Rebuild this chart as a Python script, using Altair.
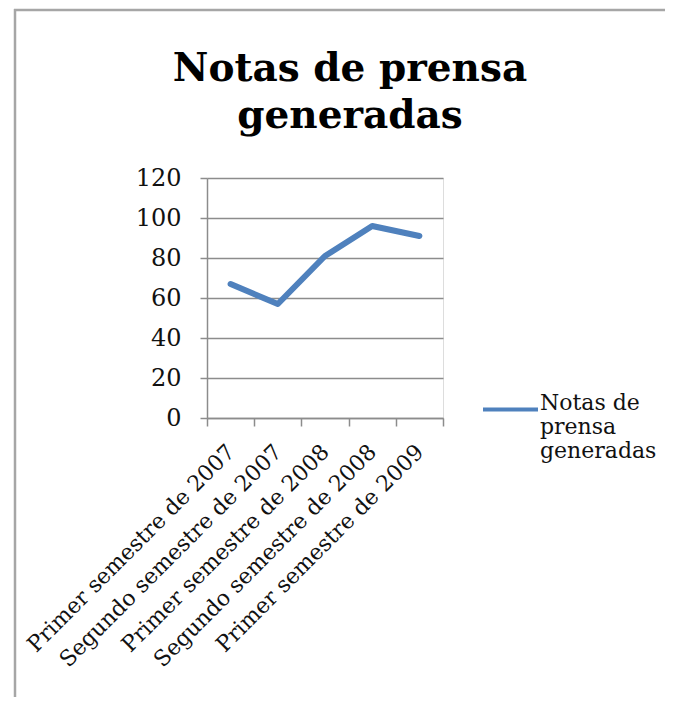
import json
import altair as alt
import pandas as pd

periodos = [
    "Primer semestre de 2007",
    "Segundo semestre de 2007",
    "Primer semestre de 2008",
    "Segundo semestre de 2008",
    "Primer semestre de 2009",
]
valores = [67, 57, 81, 96, 91]
serie = "Notas de prensa generadas"
leyenda_lineas = ["Notas de", "prensa", "generadas"]
titulo = ["Notas de prensa", "generadas"]
y_ticks = [0, 20, 40, 60, 80, 100, 120]

df = pd.DataFrame({"periodo": periodos, "valor": valores, "serie": [serie] * len(periodos)})

GRAY = "#8c8c8c"
FONT = "DejaVu Serif"

frame_v = alt.Chart(alt.Data(values=[{}])).mark_rule(color="#a6a6a6", strokeWidth=2.5).encode(
    x=alt.value(-192), y=alt.value(-169), y2=alt.value(519)
)
frame_h = alt.Chart(alt.Data(values=[{}])).mark_rule(color="#a6a6a6", strokeWidth=2.5).encode(
    x=alt.value(-193), x2=alt.value(460), y=alt.value(-168)
)

line = alt.Chart(df).mark_line(strokeWidth=6, strokeCap="round", strokeJoin="round").encode(
    x=alt.X(
        "periodo:N",
        sort=periodos,
        scale=alt.Scale(type="band", paddingInner=0, paddingOuter=0),
        axis=alt.Axis(
            title=None,
            tickBand="extent",
            labelAngle=-45,
            labelAlign="right",
            labelBaseline="middle",
            labelFont=FONT,
            labelFontSize=22,
            labelColor="#111111",
            labelPadding=22,
            labelLimit=400,
            tickSize=8,
            tickColor=GRAY,
            tickWidth=1.5,
            domainColor=GRAY,
            domainWidth=1.5,
            grid=False,
        ),
    ),
    y=alt.Y(
        "valor:Q",
        scale=alt.Scale(domain=[0, 120], nice=False, zero=True),
        axis=alt.Axis(
            title=None,
            values=y_ticks,
            labelFont=FONT,
            labelFontSize=24,
            labelColor="#111111",
            labelPadding=19,
            tickSize=7,
            tickColor=GRAY,
            tickWidth=1.5,
            domainColor=GRAY,
            domainWidth=1.5,
            grid=True,
            gridColor=GRAY,
            gridWidth=1.5,
        ),
    ),
    color=alt.Color(
        "serie:N",
        scale=alt.Scale(range=["#4F81BD"]),
        legend=alt.Legend(
            title=None,
            orient="none",
            legendX=274,
            legendY=202,
            symbolType="stroke",
            symbolSize=3025,
            symbolStrokeWidth=4,
            labelFont=FONT,
            labelFontSize=22,
            labelColor="#111111",
            labelOffset=0,
            labelBaseline="alphabetic",
            labelLimit=300,
            labelExpr=json.dumps(leyenda_lineas),
        ),
    ),
)

chart = alt.layer(frame_v, frame_h, line).properties(
    width=236,
    height=240,
    autosize=alt.AutoSizeParams(type="none"),
    padding={"left": 199, "top": 170, "right": 222, "bottom": 279},
    title=alt.TitleParams(
        text=titulo,
        font=FONT,
        fontSize=39,
        fontWeight="bold",
        color="#000000",
        lineHeight=47,
        anchor="middle",
        dx=25,
        dy=168,
        offset=40,
    ),
).configure_view(stroke=None).configure(background="white")

chart.save("out.html", embed_options={"renderer": "svg", "actions": False})
